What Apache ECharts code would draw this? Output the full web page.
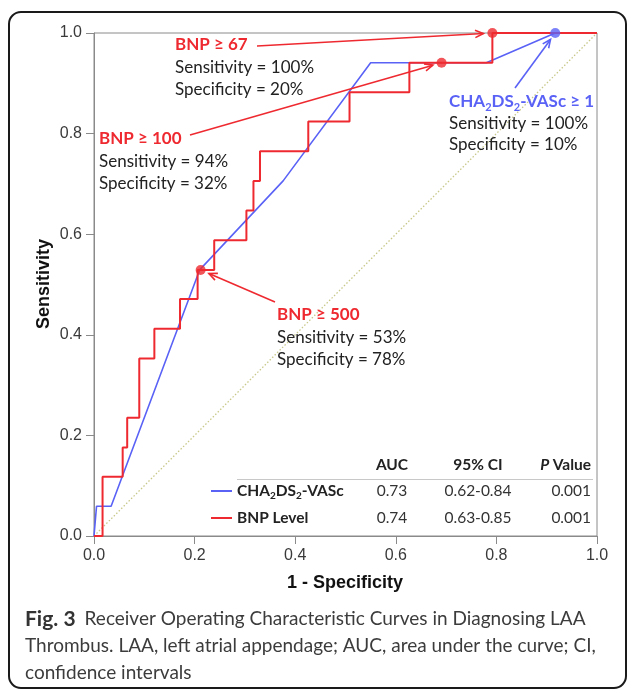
<!DOCTYPE html>
<html><head><meta charset="utf-8">
<script src="https://cdn.jsdelivr.net/npm/echarts/dist/echarts.min.js"></script>
<style>html,body{margin:0;padding:0;background:#fff}#c{width:630px;height:693px}</style>
</head><body><div id="c"></div>
<script>
// ---------- data ----------
const xTickLabels = ['0.0', '0.2', '0.4', '0.6', '0.8', '1.0'];
const yTickLabels = ['0.0', '0.2', '0.4', '0.6', '0.8', '1.0'];

// BNP level ROC points (1 - specificity, sensitivity), drawn as steps
const bnpFpr = [0, 0.017, 0.057, 0.066, 0.090, 0.120, 0.171, 0.206, 0.239, 0.303, 0.317, 0.330, 0.426, 0.508, 0.627, 0.792, 1.0];
const bnpTpr = [0, 0.118, 0.176, 0.235, 0.353, 0.412, 0.471, 0.529, 0.588, 0.647, 0.706, 0.765, 0.824, 0.882, 0.941, 1.0, 1.0];

// CHA2DS2-VASc ROC points
const chaFpr = [0, 0.005, 0.034, 0.210, 0.376, 0.550, 0.780, 0.917, 1.0];
const chaTpr = [0, 0.059, 0.059, 0.529, 0.706, 0.941, 0.941, 1.0, 1.0];

// reference diagonal
const refX = [0, 1];
const refY = [0, 1];

// highlighted cut-off points
const bnpCutFpr = [0.212, 0.691, 0.792];
const bnpCutTpr = [0.529, 0.941, 1.0];
const chaCutFpr = [0.917];
const chaCutTpr = [1.0];

// annotation texts
const bnpCutLabels = ['BNP \u2265 500', 'BNP \u2265 100', 'BNP \u2265 67'];
const bnpCutSens = ['Sensitivity = 53%', 'Sensitivity = 94%', 'Sensitivity = 100%'];
const bnpCutSpec = ['Specificity = 78%', 'Specificity = 32%', 'Specificity = 20%'];
const chaCutSens = ['Sensitivity = 100%'];
const chaCutSpec = ['Specificity = 10%'];

// table
const tableHeader = ['AUC', '95% CI', 'P Value'];
const tableNames = ['CHA2DS2-VASc', 'BNP Level'];
const tableAuc = ['0.73', '0.74'];
const tableCi = ['0.62-0.84', '0.63-0.85'];
const tableP = ['0.001', '0.001'];

const xTitle = '1 - Specificity';
const yTitle = 'Sensitivity';
const captionLines = ['Receiver Operating Characteristic Curves in Diagnosing LAA',
  'Thrombus. LAA, left atrial appendage; AUC, area under the curve; CI,',
  'confidence intervals'];

// ---------- style ----------
const RED = '#ee2a30';
const BLUE = '#5a62f6';
const AXC = '#8a8a8a';
const TXT = '#222';
const ANN = 'Lato, "Open Sans", sans-serif';
const ARIAL = '"Liberation Sans", Arial, sans-serif';

const zip = (a, b) => a.map((v, i) => [v, b[i]]);

const chart = echarts.init(document.getElementById('c'), null, { renderer: 'canvas' });

const axisCommon = {
  type: 'value', min: 0, max: 1, interval: 0.2,
  axisLine: { show: true, lineStyle: { color: AXC, width: 1 } },
  axisTick: { show: true, inside: false, length: 8, lineStyle: { color: AXC } },
  splitLine: { show: false },
};

chart.setOption({
  animation: false,
  backgroundColor: '#fff',
  grid: { left: 94, top: 33, width: 503, height: 503, show: true, borderColor: AXC, borderWidth: 1, backgroundColor: 'transparent' },
  xAxis: Object.assign({}, axisCommon, {
    axisLabel: { margin: 12, fontSize: 16, fontFamily: ARIAL, color: '#3a3a3a',
      formatter: v => xTickLabels[Math.round(v / 0.2)] }
  }),
  yAxis: Object.assign({}, axisCommon, {
    axisLabel: { margin: 12, fontSize: 16, fontFamily: ARIAL, color: '#3a3a3a',
      formatter: v => yTickLabels[Math.round(v / 0.2)] }
  }),
  series: [
    { type: 'line', data: zip(refX, refY), symbol: 'none', silent: true,
      lineStyle: { color: '#c8c88a', width: 1.3, type: [1.5, 2] }, z: 1 },
    { type: 'line', data: zip(chaFpr, chaTpr), symbol: 'none',
      lineStyle: { color: BLUE, width: 1.6 }, z: 2 },
    { type: 'line', data: zip(bnpFpr, bnpTpr), step: 'end', symbol: 'none',
      lineStyle: { color: RED, width: 2 }, z: 3 },
    { type: 'scatter', data: zip(bnpCutFpr, bnpCutTpr), symbolSize: 10,
      itemStyle: { color: RED }, z: 5 },
    { type: 'scatter', data: zip(chaCutFpr, chaCutTpr), symbolSize: 10,
      itemStyle: { color: BLUE }, z: 5 },
  ]
});

// ---------- annotations / table / caption (graphic) ----------
function arrow(sx, sy, target, color, gap) {
  const [tx0, ty0] = chart.convertToPixel({ gridIndex: 0 }, target);
  const dx = tx0 - sx, dy = ty0 - sy, L = Math.hypot(dx, dy);
  const ux = dx / L, uy = dy / L;
  const tx = tx0 - ux * gap, ty = ty0 - uy * gap;
  const hl = 9, ang = 0.42;
  const ca = Math.cos(ang), sa = Math.sin(ang);
  const b1 = [tx - hl * (ux * ca - uy * sa), ty - hl * (uy * ca + ux * sa)];
  const b2 = [tx - hl * (ux * ca + uy * sa), ty - hl * (uy * ca - ux * sa)];
  return [
    { type: 'line', shape: { x1: sx, y1: sy, x2: tx, y2: ty }, style: { stroke: color, lineWidth: 1.6 }, z: 10 },
    { type: 'polyline', shape: { points: [b1, [tx, ty], b2] }, style: { stroke: color, lineWidth: 1.6, fill: null }, z: 10 },
  ];
}

function txt(x, y, text, opts) {
  opts = opts || {};
  return { type: 'text', x: x, y: y, z: 20, rotation: opts.rotation || 0,
    style: { text: text, fill: opts.color || TXT,
      font: (opts.weight || 'normal') + ' ' + (opts.size || 17) + 'px ' + (opts.family || ANN),
      textAlign: opts.align || 'left', textVerticalAlign: 'middle', rich: opts.rich } };
}

function subRich(color, size, subSize) {
  return {
    b: { fontSize: size, fontWeight: 'bold', fontFamily: ANN, fill: color, color: color, lineHeight: size + 5 },
    s: { fontSize: subSize, fontWeight: 'bold', fontFamily: ANN, fill: color, color: color, lineHeight: subSize, verticalAlign: 'bottom' }
  };
}
function chaRich(name) {
  return name.replace('CHA2DS2', '{b|CHA}{s|2}{b|DS}{s|2}').replace(/-VASc(.*)$/, '{b|-VASc$1}');
}

const g = [];
const bnpBlocks = [[277, 315], [99, 139], [175, 45]];
const bnpArrowStart = [[275, 302], [190, 135], [257, 46]];
const lineGap = 22.5;
bnpCutFpr.forEach((fx, i) => {
  const [bx, by] = bnpBlocks[i];
  g.push(txt(bx, by, bnpCutLabels[i], { color: RED, weight: 'bold' }));
  g.push(txt(bx, by + lineGap, bnpCutSens[i], { color: TXT }));
  g.push(txt(bx, by + 2 * lineGap, bnpCutSpec[i], { color: TXT }));
  g.push(...arrow(bnpArrowStart[i][0], bnpArrowStart[i][1], [fx, bnpCutTpr[i]], RED, 9));
});
{
  const bx = 449, by = 102;
  g.push({ type: 'text', x: bx, y: by, z: 20,
    style: { text: chaRich('CHA2DS2-VASc \u2265 1'), rich: subRich(BLUE, 17, 11), textAlign: 'left', textVerticalAlign: 'middle' } });
  g.push(txt(bx, by + 21.5, chaCutSens[0]));
  g.push(txt(bx, by + 43, chaCutSpec[0]));
  g.push(...arrow(515, 88, [chaCutFpr[0], chaCutTpr[0]], BLUE, 8));
}

// table
const colAucX = 392, colCiX = 478, colPX = 591;
const headY = 465, rowY = [491, 518];
g.push(txt(colAucX, headY, tableHeader[0], { weight: 'bold', size: 15.5, align: 'center' }));
g.push(txt(colCiX, headY, tableHeader[1], { weight: 'bold', size: 15.5, align: 'center' }));
g.push({ type: 'text', x: colPX, y: headY, z: 20,
  style: { text: '{i|P} {b|Value}', textAlign: 'right', textVerticalAlign: 'middle',
    rich: { i: { fontSize: 15.5, fontWeight: 'bold', fontStyle: 'italic', fontFamily: ANN, fill: TXT, color: TXT },
            b: { fontSize: 15.5, fontWeight: 'bold', fontFamily: ANN, fill: TXT, color: TXT } } } });
g.push({ type: 'line', shape: { x1: 237, y1: 479.5, x2: 593, y2: 479.5 }, style: { stroke: '#c8c8c8', lineWidth: 1 }, z: 20 });
const legColors = [BLUE, RED];
tableNames.forEach((nm, i) => {
  const y = rowY[i];
  g.push({ type: 'line', shape: { x1: 211, y1: y, x2: 232, y2: y }, style: { stroke: legColors[i], lineWidth: 2 }, z: 20 });
  if (nm.indexOf('CHA2DS2') === 0) {
    g.push({ type: 'text', x: 237, y: y, z: 20,
      style: { text: chaRich(nm), rich: subRich(TXT, 15.5, 10), textAlign: 'left', textVerticalAlign: 'middle' } });
  } else {
    g.push(txt(237, y, nm, { weight: 'bold', size: 15.5 }));
  }
  g.push(txt(colAucX, y, tableAuc[i], { size: 15.5, align: 'center', color: '#333' }));
  g.push(txt(colCiX, y, tableCi[i], { size: 15.5, align: 'center', color: '#333' }));
  g.push(txt(colPX, y, tableP[i], { size: 15.5, align: 'right', color: '#333' }));
});

// axis titles
g.push(txt(345, 583, xTitle, { weight: 'bold', size: 18, family: ARIAL, align: 'center', color: '#111' }));
g.push(txt(44, 284, yTitle, { weight: 'bold', size: 18, family: ARIAL, align: 'center', color: '#111', rotation: Math.PI / 2 }));

// caption
g.push({ type: 'text', x: 25, y: 619, z: 20,
  style: { text: '{b|Fig. 3}{r|' + captionLines[0] + '}', textAlign: 'left', textVerticalAlign: 'middle',
    rich: { b: { fontSize: 21, fontWeight: 'bold', fontFamily: ANN, fill: '#333', color: '#333', padding: [0, 9, 0, 0] },
            r: { fontSize: 19, fontFamily: ANN, fill: '#3c3c3c', color: '#3c3c3c' } } } });
g.push(txt(25, 646, captionLines[1], { size: 19, color: '#3c3c3c' }));
g.push(txt(25, 673, captionLines[2], { size: 19, color: '#3c3c3c' }));

// outer rounded frame
g.push({ type: 'rect', shape: { x: 9, y: 12, width: 617, height: 676, r: 12 },
  style: { fill: null, stroke: '#1a1a1a', lineWidth: 2 }, z: 0, silent: true });

chart.setOption({ graphic: g });
</script>
</body></html>
